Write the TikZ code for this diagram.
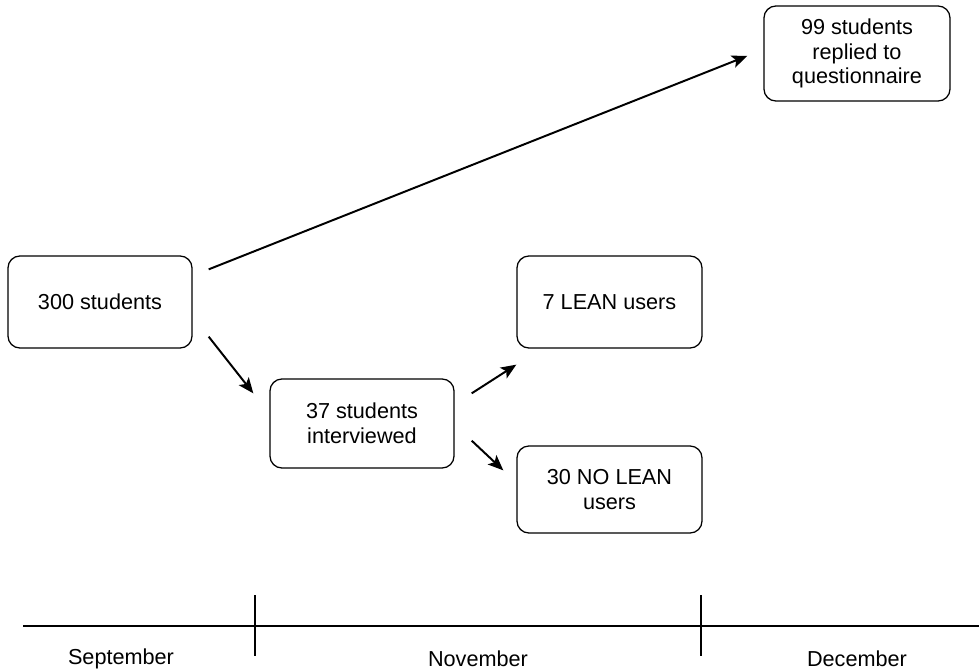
\documentclass[tikz,border=0pt]{standalone}
\usepackage{fontspec}
\setmainfont{Liberation Sans}
\usetikzlibrary{arrows.meta}

\begin{document}
\begin{tikzpicture}[x=0.025cm, y=-0.025cm,
  box/.style={draw, line width=0.9pt, rounded corners=0.3cm, align=center,
    font=\fontsize{15.4}{17.6}\selectfont, inner sep=0pt},
  flow/.style={line width=1.4pt, -{Stealth[length=11pt, width=9pt, inset=2.5pt]}},
  month/.style={font=\fontsize{15.4}{17.6}\selectfont}]
\useasboundingbox (0,0) rectangle (979,670);
% Boxes
\node[box, minimum width=4.6cm, minimum height=2.3cm] (all) at (100,302) {300 students};
\node[box, minimum width=4.6cm, minimum height=2.225cm] (inter) at (362,423.5) {37 students\\interviewed};
\node[box, minimum width=4.625cm, minimum height=2.3cm] (lean) at (609.5,302) {7 LEAN users};
\node[box, minimum width=4.625cm, minimum height=2.175cm] (nolean) at (609.5,489.5) {30 NO LEAN\\users};
\node[box, minimum width=4.65cm, minimum height=2.375cm] (quest) at (857,53.5) {99 students\\replied to\\questionnaire};
% Arrows
\draw[flow] ([xshift=0.4cm, yshift=-0.35cm]all.north east) -- ([xshift=-0.4cm, yshift=-0.06cm]quest.west);
\draw[flow] ([xshift=0.4cm, yshift=0.3cm]all.south east) -- ([xshift=-0.4cm, yshift=-0.375cm]inter.north west);
\draw[flow] ([xshift=0.425cm, yshift=-0.375cm]inter.north east) -- ([yshift=-0.4cm]lean.south west);
\draw[flow] ([xshift=0.425cm, yshift=0.7cm]inter.south east) -- ([xshift=-0.325cm, yshift=-0.625cm]nolean.north west);
% Time line
\coordinate (tl) at (23,626);
\coordinate (tr) at (979,626);
\draw[line width=1pt] (tl) -- (tr);
\draw[line width=1.4pt] (255,595) -- (255,656);
\draw[line width=1.4pt] (701,595) -- (701,656);
\node[month] (sep) at (121,659) {September};
\node[month] (nov) at (478,659) {November};
\node[month] (dec) at (857,659) {December};
\end{tikzpicture}
\end{document}
